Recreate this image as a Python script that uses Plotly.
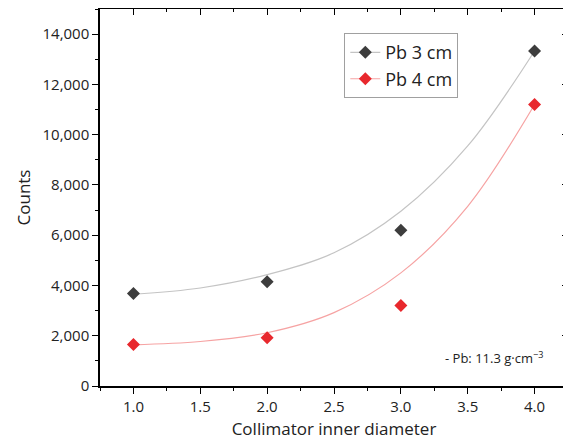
import plotly.graph_objects as go

# Measured data
diameters = [1.0, 2.0, 3.0, 4.0]
counts_pb3 = [3680, 4150, 6200, 13330]
counts_pb4 = [1650, 1920, 3200, 11200]

# Fitted curves
fit_x = [1.0, 1.5, 2.0, 2.5, 3.0, 3.5, 4.0]
fit_pb3 = [3650, 3900, 4430, 5300, 6950, 9550, 13330]
fit_pb4 = [1640, 1770, 2120, 2920, 4500, 7150, 11200]

series_names = ["Pb 3 cm", "Pb 4 cm"]
x_ticks = [1.0, 1.5, 2.0, 2.5, 3.0, 3.5, 4.0]
x_tick_text = ["1.0", "1.5", "2.0", "2.5", "3.0", "3.5", "4.0"]
y_ticks = [0, 2000, 4000, 6000, 8000, 10000, 12000, 14000]
y_tick_text = ["0", "2,000", "4,000", "6,000", "8,000", "10,000", "12,000", "14,000"]

FONT = "Open Sans"
dark = "#3d3d3d"
gray_line = "#c4c4c4"
red = "#e8282d"
red_line = "#f6a3a3"

fig = go.Figure()

for fy, lc in [(fit_pb3, gray_line), (fit_pb4, red_line)]:
    fig.add_trace(go.Scatter(x=fit_x, y=fy, mode="lines",
                             line=dict(color=lc, width=1.2, shape="spline", smoothing=1.0),
                             showlegend=False, hoverinfo="skip"))

for cy, mc in [(counts_pb3, dark), (counts_pb4, red)]:
    fig.add_trace(go.Scatter(x=diameters, y=cy, mode="markers",
                             marker=dict(symbol="diamond", size=10, color=mc),
                             showlegend=False))

# legend entries
for name, mc, lc in [(series_names[0], dark, gray_line), (series_names[1], red, red_line)]:
    fig.add_trace(go.Scatter(x=[None], y=[None], mode="lines+markers", name=name,
                             line=dict(color=lc, width=1.2),
                             marker=dict(symbol="diamond", size=10, color=mc)))

# invisible trace for top/right axes
fig.add_trace(go.Scatter(x=[None], y=[None], xaxis="x2", yaxis="y2", showlegend=False))

axis_common = dict(showline=True, linecolor="black", linewidth=1.5, showgrid=False,
                   zeroline=False, tickcolor="black", tickwidth=1.2, ticklen=6,
                   automargin=False,
                   tickfont=dict(family=FONT, size=15, color="#222"))

# page body adds an 8px offset, so the figure is sized to fit the 571x446 window
fig.update_layout(
    width=563, height=438,
    margin=dict(l=92, r=3, t=1, b=60),
    paper_bgcolor="white", plot_bgcolor="white",
    font=dict(family=FONT, color="#222"),
    xaxis=dict(range=[0.75, 4.25], tickvals=x_ticks, ticktext=x_tick_text, ticks="outside",
               minor=dict(dtick=0.25, tick0=0.75, ticks="outside", ticklen=3, tickcolor="black", tickwidth=1.2),
               title=dict(text="Collimator inner diameter", font=dict(family=FONT, size=17), standoff=8),
               **axis_common),
    yaxis=dict(range=[0, 15000], tickvals=y_ticks, ticktext=y_tick_text, ticks="outside",
               minor=dict(dtick=1000, ticks="outside", ticklen=3, tickcolor="black", tickwidth=1.2),
               title=dict(text="Counts", font=dict(family=FONT, size=17), standoff=8),
               **axis_common),
    xaxis2=dict(range=[0.75, 4.25], overlaying="x", side="top", tickvals=x_ticks, ticks="inside",
                showticklabels=False,
                minor=dict(dtick=0.25, tick0=0.75, ticks="inside", ticklen=3, tickcolor="black", tickwidth=1.2),
                **axis_common),
    yaxis2=dict(range=[0, 15000], overlaying="y", side="right", tickvals=y_ticks, ticks="inside",
                showticklabels=False,
                minor=dict(dtick=1000, ticks="inside", ticklen=3, tickcolor="black", tickwidth=1.2),
                **axis_common),
    legend=dict(x=0.522, y=0.936, xanchor="left", yanchor="top",
                bordercolor="#a0a0a0", borderwidth=1, bgcolor="white",
                font=dict(family=FONT, size=18, color="#222"),
                tracegroupgap=0, itemwidth=30),
    annotations=[dict(text="- Pb: 11.3 g·cm<sup>−3</sup>", xref="paper", yref="paper",
                      x=0.951, y=0.075, xanchor="right", yanchor="middle", showarrow=False,
                      font=dict(family=FONT, size=13, color="#222"))],
)

fig.write_html("out.html")
